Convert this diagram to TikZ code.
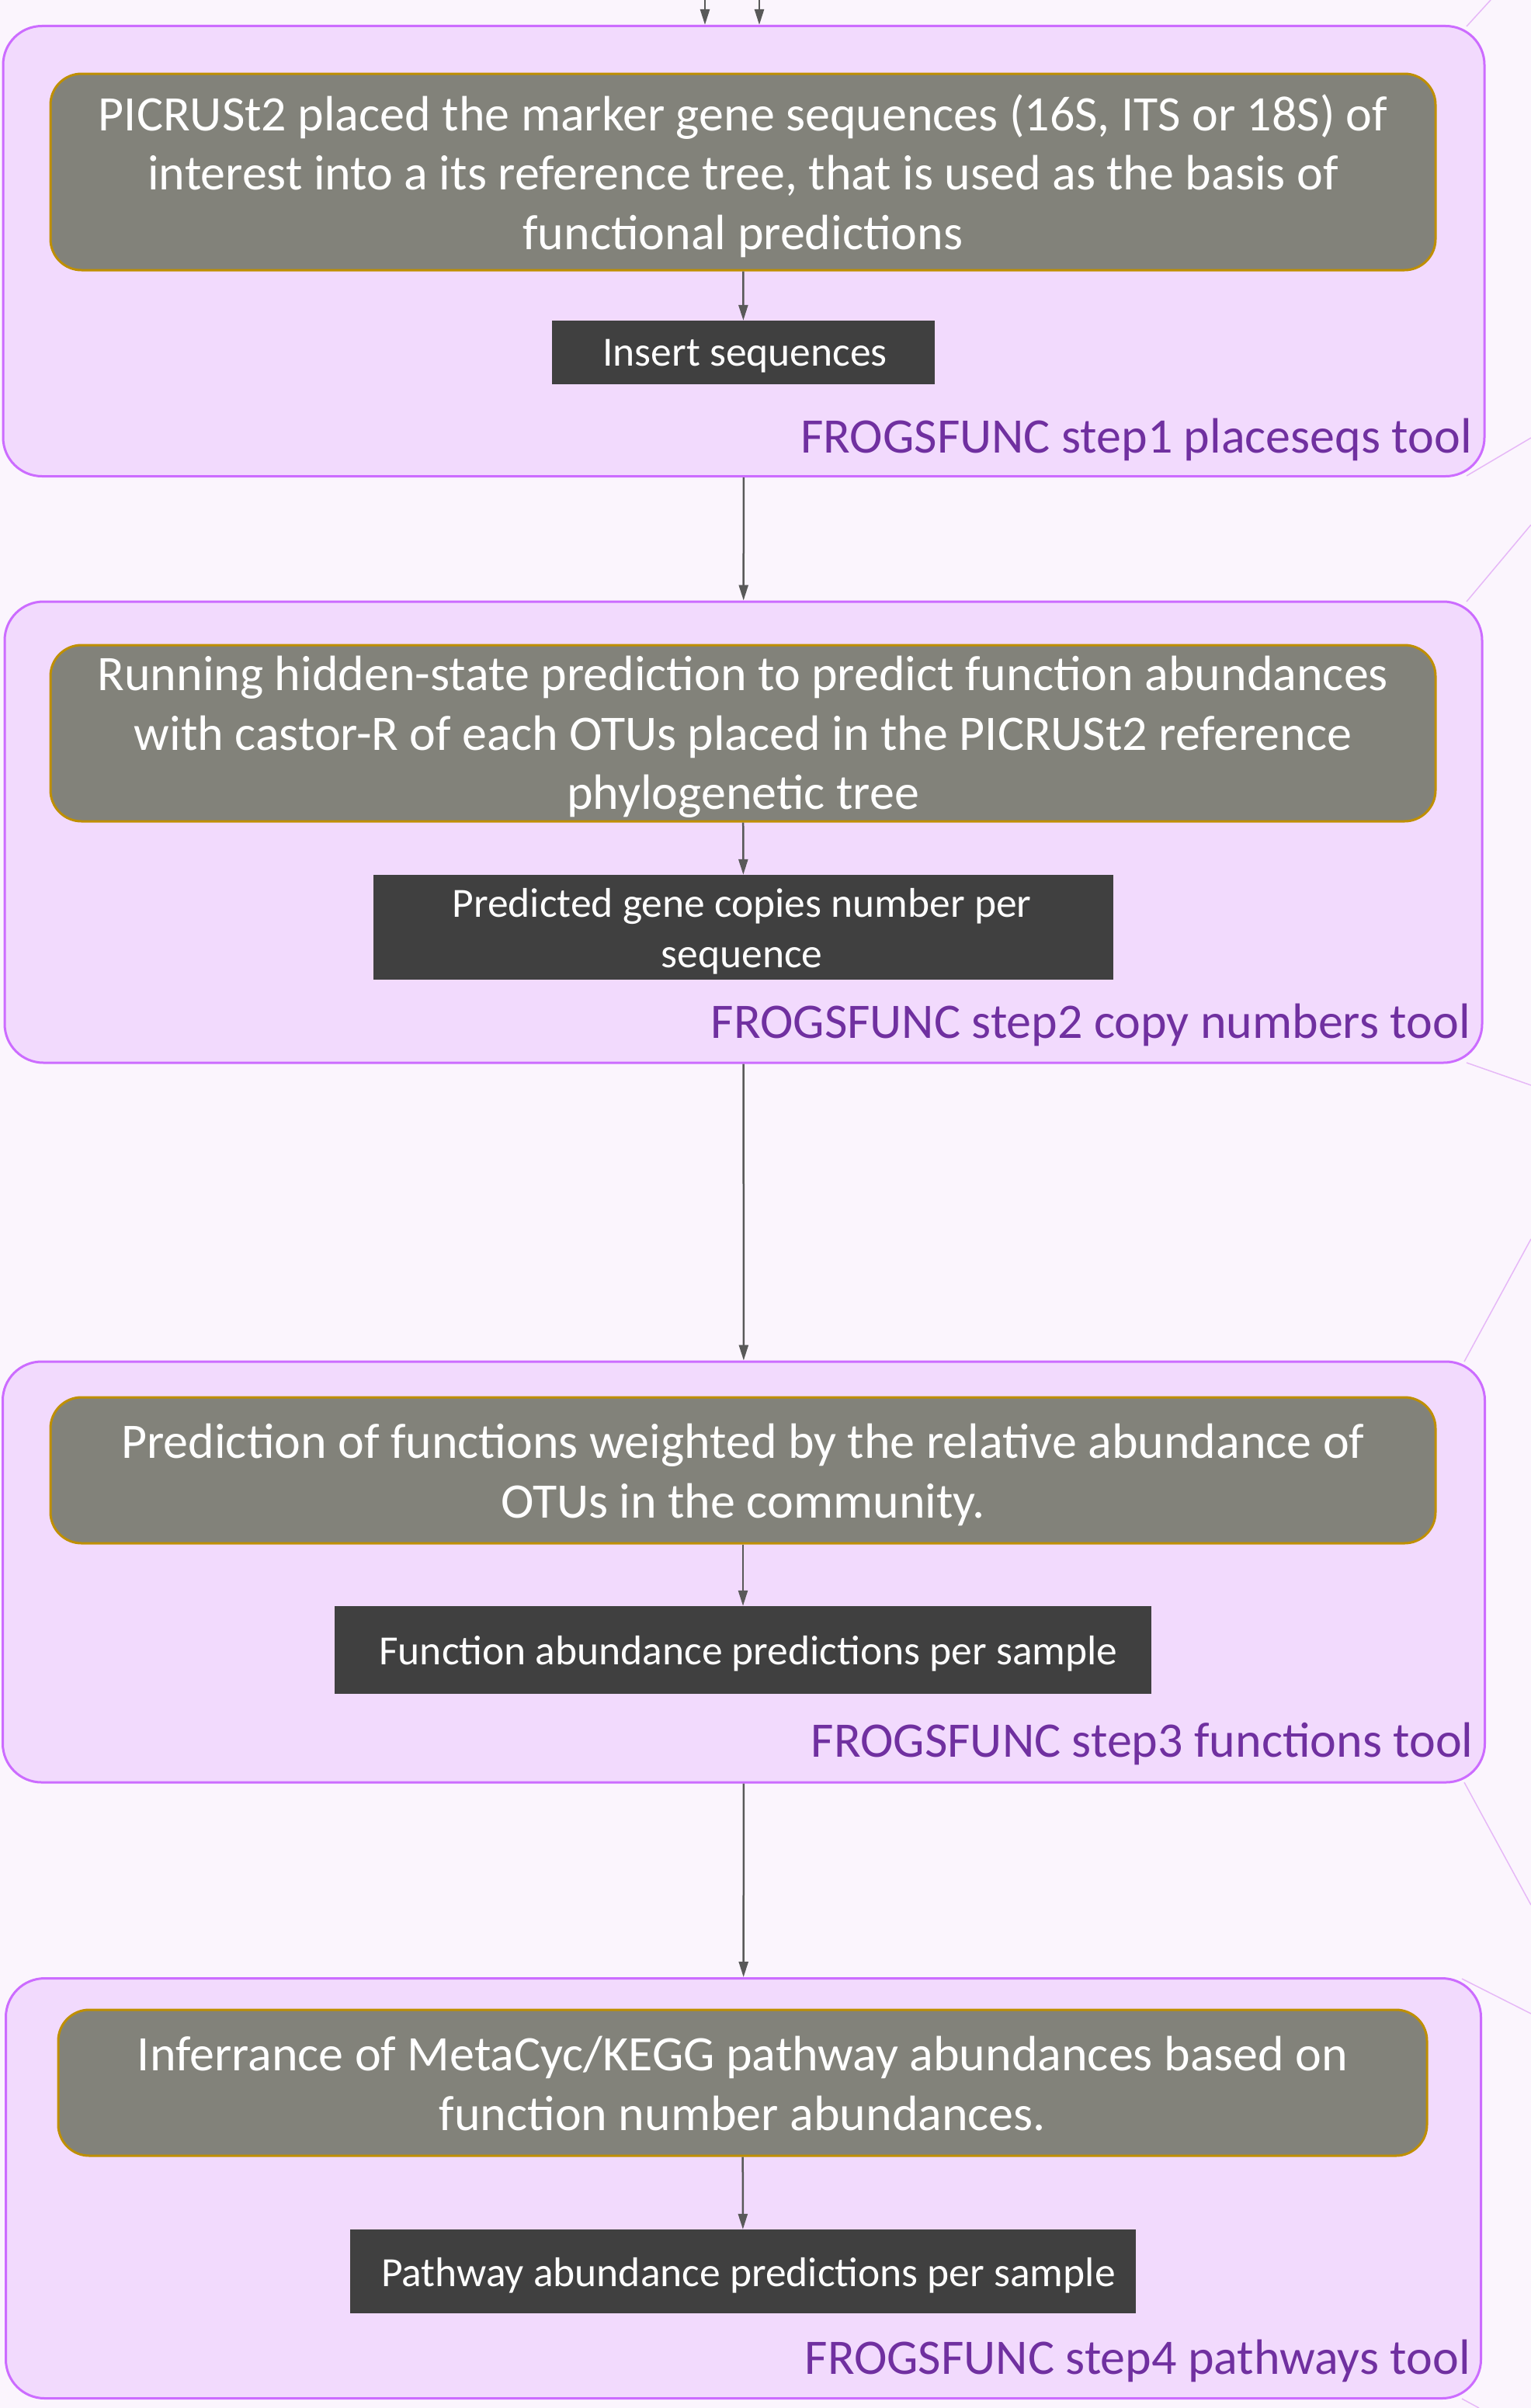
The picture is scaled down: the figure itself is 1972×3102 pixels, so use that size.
\documentclass[tikz,border=0pt]{standalone}
\usepackage{fontspec}
\setmainfont{Carlito}
\usetikzlibrary{arrows.meta}
\definecolor{bgc}{HTML}{FBF5FD}
\definecolor{grpfill}{HTML}{F2DAFD}
\definecolor{grpline}{HTML}{CC6CFF}
\definecolor{grayfill}{HTML}{82827A}
\definecolor{goldline}{HTML}{BF8F00}
\definecolor{outfill}{HTML}{404040}
\definecolor{labc}{HTML}{7030A0}
\definecolor{arrc}{HTML}{595959}
\definecolor{faint}{HTML}{E6B8F7}
\tikzset{
  grp/.style={draw=grpline, fill=grpfill, line width=3pt, rounded corners=50pt, inner sep=0pt, rectangle},
  graybox/.style={draw=goldline, fill=grayfill, line width=3pt, rounded corners=40pt, inner sep=0pt, rectangle},
  graytext/.style={inner sep=0pt, text=white, align=center, font=\fontsize{64}{76.5}\selectfont},
  outbox/.style={fill=outfill, inner sep=0pt, rectangle},
  outtext/.style={inner sep=0pt, text=white, align=center, font=\fontsize{53.5}{65}\selectfont},
  grplabel/.style={anchor=base east, text=labc, inner sep=0pt, font=\fontsize{64}{72}\selectfont},
  arr/.style={draw=arrc, line width=2.5pt, -{Triangle[length=20pt,width=12pt]}},
  faintline/.style={draw=faint, line width=1.5pt},
}
\begin{document}
\begin{tikzpicture}[x=1pt,y=-1pt]
\fill[bgc] (0,0) rectangle (1972,3102);
\useasboundingbox (0,0) rectangle (1972,3102);

% group containers
\node[grp, minimum width=1908pt, minimum height=580pt] (s1) at (958,323.5) {};
\node[grp, minimum width=1903pt, minimum height=594pt] (s2) at (957.5,1072) {};
\node[grp, minimum width=1909pt, minimum height=542pt] (s3) at (958,2025) {};
\node[grp, minimum width=1900pt, minimum height=541pt] (s4) at (957.5,2819) {};

% faint connectors to the right
\coordinate (f1) at (1920,0);
\coordinate (f2) at (1972,564);
\coordinate (f3) at (1972,676);
\coordinate (f4) at (1972,1398);
\coordinate (f5) at (1972,1596);
\coordinate (f6) at (1972,2454);
\coordinate (f7) at (1972,2594);
\coordinate (f8) at (1905,3102);
\coordinate (c1a) at (1889,34);
\coordinate (c1b) at (1889,613);
\coordinate (c2a) at (1889,775);
\coordinate (c2b) at (1889,1369);
\coordinate (c3a) at (1886,1754);
\coordinate (c3b) at (1886,2296);
\coordinate (c4a) at (1883,2549);
\coordinate (c4b) at (1883,3090);
\draw[faintline] (c1a) -- (f1);
\draw[faintline] (c1b) -- (f2);
\draw[faintline] (c2a) -- (f3);
\draw[faintline] (c2b) -- (f4);
\draw[faintline] (c3a) -- (f5);
\draw[faintline] (c3b) -- (f6);
\draw[faintline] (c4a) -- (f7);
\draw[faintline] (c4b) -- (f8);

% gray process boxes
\node[graybox, minimum width=1784pt, minimum height=253pt] (g1) at (957,221.5) {};
\node[graybox, minimum width=1784pt, minimum height=227pt] (g2) at (957,944.5) {};
\node[graybox, minimum width=1784pt, minimum height=188pt] (g3) at (957,1894) {};
\node[graybox, minimum width=1763pt, minimum height=188pt] (g4) at (956.5,2683) {};
\node[graytext, yshift=-5pt] (g1t) at (g1.center)
  {PICRUSt2 placed the marker gene sequences (16S, ITS or 18S) of\\interest into a its reference tree, that is used as the basis of\\functional predictions};
\node[graytext, yshift=-5pt] (g2t) at (g2.center)
  {Running hidden-state prediction to predict function abundances\\with castor-R of each OTUs placed in the PICRUSt2 reference\\phylogenetic tree};
\node[graytext, yshift=-6pt] (g3t) at (g3.center)
  {Prediction of functions weighted by the relative abundance of\\OTUs in the community.};
\node[graytext, yshift=-1pt] (g4t) at (g4.center)
  {Inferrance of MetaCyc/KEGG pathway abundances based on\\function number abundances.};

% output boxes
\node[outbox, minimum width=493pt, minimum height=82pt] (o1) at (957.5,454) {};
\node[outbox, minimum width=953pt, minimum height=135pt] (o2) at (957.5,1194.5) {};
\node[outbox, minimum width=1052pt, minimum height=113pt] (o3) at (957,2125.5) {};
\node[outbox, minimum width=1012pt, minimum height=108pt] (o4) at (957,2926) {};
\node[outtext, yshift=-5pt, xshift=2pt] (o1t) at (o1.center) {Insert sequences};
\node[outtext, yshift=-5pt, xshift=-2pt] (o2t) at (o2.center) {Predicted gene copies number per\\sequence};
\node[outtext, yshift=-5pt, xshift=7pt] (o3t) at (o3.center) {Function abundance predictions per sample};
\node[outtext, yshift=-5pt, xshift=7pt] (o4t) at (o4.center) {Pathway abundance predictions per sample};

% group labels
\node[grplabel] (l1) at (1896,583) {FROGSFUNC step1 placeseqs tool};
\node[grplabel] (l2) at (1894,1337) {FROGSFUNC step2 copy numbers tool};
\node[grplabel] (l3) at (1898,2263) {FROGSFUNC step3 functions tool};
\node[grplabel] (l4) at (1894,3058) {FROGSFUNC step4 pathways tool};

% arrows
\coordinate (ta) at (908,0);
\coordinate (tb) at (978,0);
\draw[arr] (ta) -- (ta |- s1.north);
\draw[arr] (tb) -- (tb |- s1.north);
\draw[arr] (g1) -- (o1);
\draw[arr] (s1) -- (s2);
\draw[arr] (g2) -- (o2);
\draw[arr] (s2) -- (s3);
\draw[arr] (g3) -- (o3);
\draw[arr] (s3) -- (s4);
\draw[arr] (g4) -- (o4);
\end{tikzpicture}
\end{document}
